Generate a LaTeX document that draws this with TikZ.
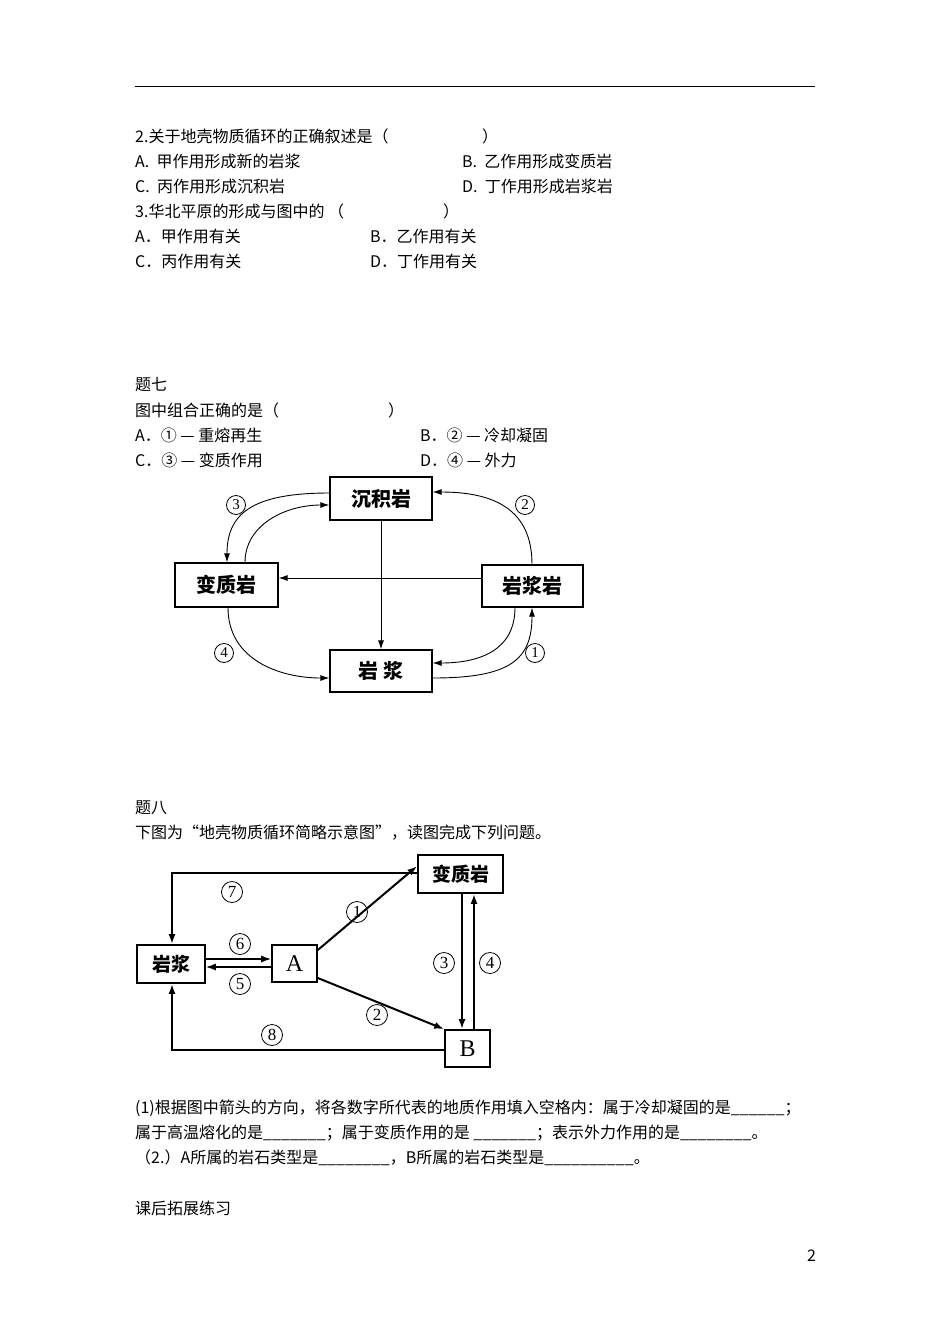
\documentclass[tikz,border=0pt]{standalone}
\usepackage{fontspec}
\setmainfont{Noto Sans CJK SC}
\newfontfamily\serf{Liberation Serif}
\usetikzlibrary{arrows.meta}
\begin{document}
\begin{tikzpicture}[x=1pt,y=-1pt,
  txt/.style={anchor=west,inner sep=0pt,font=\fontsize{16}{18}\selectfont},
  rbox/.style={draw,line width=1.2pt,inner sep=0pt,font=\fontsize{20}{22}\selectfont\bfseries},
  cyc/.style={line width=0.9pt,-{Latex[length=9pt,width=6pt]}},
  lab/.style={circle,draw,line width=0.8pt,minimum size=19pt,inner sep=0pt,font=\fontsize{15}{16}\selectfont\serf},
  thk/.style={line width=2pt,-{Latex[length=10pt,width=7pt]}}]
\useasboundingbox (0,0) rectangle (950,1344);
\draw[line width=1pt] (135,86) coordinate (r1) -- (815,86) coordinate (r2);
\node[txt] (t1) at (135,136) {2.关于地壳物质循环的正确叙述是（};
\node[txt] (t1b) at (482,136) {）};
\node[txt] (t2) at (135,161) {A.\ \ 甲作用形成新的岩浆};
\node[txt] (t3) at (462,161) {B.\ \ 乙作用形成变质岩};
\node[txt] (t4) at (135,186) {C.\ \ 丙作用形成沉积岩};
\node[txt] (t5) at (462,186) {D.\ \ 丁作用形成岩浆岩};
\node[txt] (t6) at (135,211) {3.华北平原的形成与图中的 （};
\node[txt] (t6b) at (443,211) {）};
\node[txt] (t7) at (135,236) {A．甲作用有关};
\node[txt] (t8) at (370,236) {B．乙作用有关};
\node[txt] (t9) at (135,261) {C．丙作用有关};
\node[txt] (t10) at (370,261) {D．丁作用有关};
\node[txt] (q7) at (135,385) {题七};
\node[txt] (q7a) at (135,410) {图中组合正确的是（};
\node[txt] (q7b) at (388,410) {）};
\node[txt] (q7c) at (135,435) {A．① — 重熔再生};
\node[txt] (q7d) at (420,435) {B．② — 冷却凝固};
\node[txt] (q7e) at (135,460) {C．③ — 变质作用};
\node[txt] (q7f) at (420,460) {D．④ — 外力};
% diagram 1
\node[rbox,minimum width=102pt,minimum height=43pt] (sj) at (381,498.5) {沉积岩};
\node[rbox,minimum width=103pt,minimum height=44pt] (bz) at (226.5,585) {变质岩};
\node[rbox,minimum width=101pt,minimum height=42pt] (yjy) at (532.5,586) {岩浆岩};
\node[rbox,minimum width=102pt,minimum height=42pt] (yj) at (381,671) {岩\ 浆};
\draw[cyc] (sj) -- (yj);
\draw[cyc] (yjy.west |- 0,578) -- (bz.east |- 0,578);
\draw[cyc] (sj.west |- 0,493) .. controls (250,493) and (227,515) .. (bz.north -| 227,0);
\draw[cyc] (bz.north -| 245,0) .. controls (245,525) and (285,505) .. (sj.west |- 0,505);
\draw[cyc] (yjy.north -| 532,0) .. controls (532,510) and (495,492) .. (sj.east |- 0,492);
\draw[cyc] (yjy.south -| 515,0) .. controls (515,650) and (480,663) .. (yj.east |- 0,663);
\draw[cyc] (yj.east |- 0,678) .. controls (510,678) and (532,660) .. (yjy.south -| 532,0);
\draw[cyc] (bz.south -| 228,0) .. controls (228,660) and (280,678) .. (yj.west |- 0,678);
\node[lab] (c3) at (236,505) {3};
\node[lab] (c2) at (525,505) {2};
\node[lab] (c4) at (224,653) {4};
\node[lab] (c1) at (535,653) {1};
\node[txt] (q8) at (135,808) {题八};
\node[txt] (q8a) at (135,833) {下图为“地壳物质循环简略示意图”，读图完成下列问题。};
% diagram 2
\node[rbox,line width=1.6pt,minimum width=85pt,minimum height=38pt,font=\fontsize{19}{21}\selectfont\bfseries] (b2) at (460.5,874) {变质岩};
\node[rbox,line width=1.6pt,minimum width=68pt,minimum height=38pt,font=\fontsize{19}{21}\selectfont\bfseries] (m2) at (171,964) {岩浆};
\node[rbox,line width=1.6pt,minimum width=45pt,minimum height=37pt,font=\fontsize{24}{26}\selectfont\serf] (A) at (294.5,963.5) {A};
\node[rbox,line width=1.6pt,minimum width=45pt,minimum height=37pt,font=\fontsize{24}{26}\selectfont\serf] (B) at (467.5,1048.5) {B};
\draw[thk] (b2.west |- 0,873) -- (172,873) -- (m2.north -| 172,0);
\draw[thk] (B.west |- 0,1050) -- (172,1050) -- (m2.south -| 172,0);
\draw[thk,line width=1.4pt] (m2.east |- 0,959) -- (A.west |- 0,959);
\draw[thk,line width=1.4pt] (A.west |- 0,967) -- (m2.east |- 0,967);
\draw[thk] (A.east |- 0,950) -- (b2.west |- 0,866);
\draw[thk] (A.east |- 0,978) -- (B.north west);
\draw[thk] (b2.south -| 462,0) -- (B.north -| 462,0);
\draw[thk] (B.north -| 474,0) -- (b2.south -| 474,0);
\node[lab,minimum size=21pt,font=\fontsize{17}{18}\selectfont\serf] (d7) at (232,892) {7};
\node[lab,minimum size=21pt,font=\fontsize{17}{18}\selectfont\serf] (d6) at (240,944) {6};
\node[lab,minimum size=21pt,font=\fontsize{17}{18}\selectfont\serf] (d5) at (240,984) {5};
\node[lab,minimum size=21pt,font=\fontsize{17}{18}\selectfont\serf] (d1) at (357,912) {1};
\node[lab,minimum size=21pt,font=\fontsize{17}{18}\selectfont\serf] (d2) at (377,1015) {2};
\node[lab,minimum size=21pt,font=\fontsize{17}{18}\selectfont\serf] (d3) at (444,963) {3};
\node[lab,minimum size=21pt,font=\fontsize{17}{18}\selectfont\serf] (d4) at (490,963) {4};
\node[lab,minimum size=21pt,font=\fontsize{17}{18}\selectfont\serf] (d8) at (272,1035) {8};
\node[txt] (p1) at (135,1108) {(1)根据图中箭头的方向，将各数字所代表的地质作用填入空格内：属于冷却凝固的是\_\_\_\_\_\_；};
\node[txt] (p2) at (135,1133) {属于高温熔化的是\_\_\_\_\_\_\_；属于变质作用的是 \_\_\_\_\_\_\_；表示外力作用的是\_\_\_\_\_\_\_\_。};
\node[txt] (p3) at (135,1158) {（2.）A所属的岩石类型是\_\_\_\_\_\_\_\_，B所属的岩石类型是\_\_\_\_\_\_\_\_\_\_。};
\node[txt] (p4) at (135,1208) {课后拓展练习};
\node[txt] (pg) at (807,1256) {2};
\end{tikzpicture}
\end{document}
